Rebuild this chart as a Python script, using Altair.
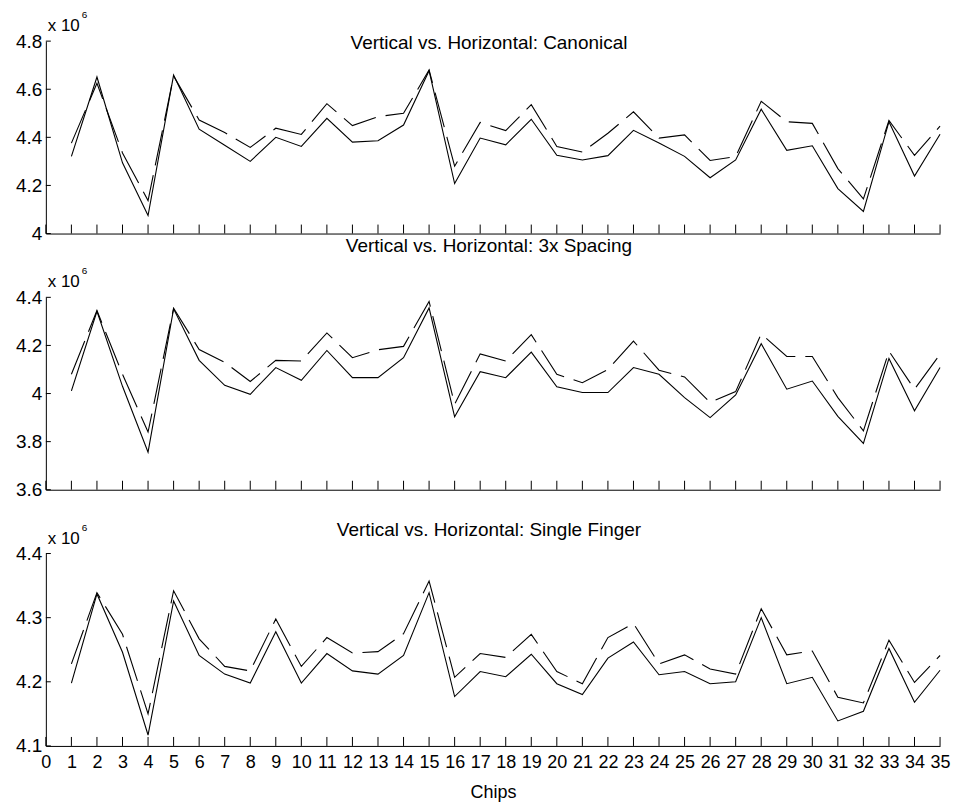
import altair as alt
import pandas as pd

chips = list(range(1, 36))
x_ticks = list(range(0, 36))

canon_solid = [4.321, 4.651, 4.294, 4.075, 4.659, 4.434, 4.367, 4.300, 4.400, 4.362,
               4.479, 4.380, 4.386, 4.451, 4.677, 4.208, 4.397, 4.369, 4.475, 4.325,
               4.306, 4.324, 4.429, 4.376, 4.321, 4.232, 4.306, 4.517, 4.346, 4.365,
               4.187, 4.092, 4.465, 4.239, 4.413]
canon_dashed = [4.376, 4.625, 4.335, 4.137, 4.655, 4.472, 4.420, 4.358, 4.438, 4.412,
                4.540, 4.449, 4.486, 4.500, 4.680, 4.280, 4.462, 4.428, 4.536, 4.362,
                4.339, 4.417, 4.506, 4.397, 4.410, 4.304, 4.320, 4.550, 4.465, 4.458,
                4.270, 4.144, 4.470, 4.325, 4.447]

spacing_solid = [4.011, 4.342, 4.030, 3.756, 4.352, 4.138, 4.034, 3.997, 4.108, 4.055,
                 4.179, 4.066, 4.066, 4.149, 4.356, 3.903, 4.091, 4.066, 4.172, 4.028,
                 4.004, 4.004, 4.108, 4.080, 3.983, 3.900, 3.994, 4.207, 4.018, 4.052,
                 3.905, 3.793, 4.146, 3.928, 4.108]
spacing_dashed = [4.080, 4.345, 4.080, 3.840, 4.355, 4.183, 4.130, 4.050, 4.138, 4.135,
                  4.252, 4.149, 4.182, 4.196, 4.383, 3.956, 4.165, 4.135, 4.245, 4.080,
                  4.045, 4.100, 4.218, 4.097, 4.069, 3.963, 4.008, 4.248, 4.154, 4.154,
                  3.983, 3.845, 4.176, 4.018, 4.163]

single_solid = [4.198, 4.337, 4.246, 4.117, 4.326, 4.241, 4.212, 4.198, 4.278, 4.198,
                4.244, 4.217, 4.212, 4.241, 4.339, 4.177, 4.216, 4.208, 4.243, 4.197,
                4.180, 4.237, 4.262, 4.211, 4.216, 4.197, 4.200, 4.300, 4.197, 4.207,
                4.139, 4.154, 4.252, 4.168, 4.218]
single_dashed = [4.228, 4.339, 4.274, 4.150, 4.342, 4.267, 4.224, 4.217, 4.298, 4.224,
                 4.269, 4.245, 4.247, 4.275, 4.357, 4.207, 4.244, 4.238, 4.274, 4.216,
                 4.197, 4.269, 4.291, 4.228, 4.242, 4.220, 4.212, 4.314, 4.242, 4.248,
                 4.176, 4.167, 4.265, 4.199, 4.241]

titles = ["Vertical vs. Horizontal: Canonical",
          "Vertical vs. Horizontal: 3x Spacing",
          "Vertical vs. Horizontal: Single Finger"]
y_domains = [[4.0, 4.8], [3.6, 4.4], [4.1, 4.4]]
y_ticks = [[4.0, 4.2, 4.4, 4.6, 4.8], [3.6, 3.8, 4.0, 4.2, 4.4], [4.1, 4.2, 4.3, 4.4]]
title_offsets = [8, -45, -18]

W, H = 897, 193
FONT = "Liberation Sans"


def panel(solid, dashed, ydom, yvals, title, title_y, show_x):
    xscale = alt.Scale(domain=[0, 35], nice=False, zero=False)
    yscale = alt.Scale(domain=ydom, nice=False, zero=False)
    xaxis_kw = dict(values=x_ticks, format="d", labels=show_x, ticks=False,
                    domain=True, domainColor="black", domainWidth=1, grid=False,
                    labelFontSize=18, labelFont=FONT, labelColor="black",
                    labelPadding=8, labelFlush=False, labelOverlap=False)
    if show_x:
        xaxis_kw.update(title="Chips", titleFont=FONT, titleFontSize=18,
                        titleFontWeight="normal", titleColor="black", titlePadding=12)
    else:
        xaxis_kw.update(title="")
    xaxis = alt.Axis(**xaxis_kw)
    yaxis = alt.Axis(values=yvals, format="~g", ticks=False, domain=True,
                     domainColor="black", domainWidth=1, grid=False,
                     labelFontSize=19, labelFont=FONT, labelColor="black",
                     labelPadding=4, labelFlush=False, labelOverlap=False, title="")

    df_s = pd.DataFrame({"chip": chips, "value": solid})
    df_d = pd.DataFrame({"chip": chips, "value": dashed})

    solid_line = alt.Chart(df_s).mark_line(color="black", strokeWidth=1.1).encode(
        x=alt.X("chip:Q", scale=xscale, axis=xaxis),
        y=alt.Y("value:Q", scale=yscale, axis=yaxis),
    )
    dashed_line = alt.Chart(df_d).mark_line(color="black", strokeWidth=1.1,
                                            strokeDash=[36, 10]).encode(
        x=alt.X("chip:Q", scale=xscale, axis=xaxis),
        y=alt.Y("value:Q", scale=yscale, axis=yaxis),
    )
    xt = alt.Chart(pd.DataFrame({"chip": x_ticks})).mark_rule(color="black", strokeWidth=1).encode(
        x=alt.X("chip:Q", scale=xscale, axis=xaxis),
        y=alt.value(H), y2=alt.value(H - 9),
    )
    yt = alt.Chart(pd.DataFrame({"value": yvals})).mark_rule(color="black", strokeWidth=1).encode(
        y=alt.Y("value:Q", scale=yscale, axis=yaxis),
        x=alt.value(0), x2=alt.value(5),
    )
    ttl = alt.Chart(pd.DataFrame({"t": [title]})).mark_text(
        font=FONT, fontSize=19, color="black", align="center", baseline="alphabetic"
    ).encode(text="t:N", x=alt.value(W / 2 - 4), y=alt.value(title_y))
    mult = alt.Chart(pd.DataFrame({"t": ["x 10"]})).mark_text(
        font=FONT, fontSize=17, color="black", align="right", baseline="alphabetic"
    ).encode(text="t:N", x=alt.value(34), y=alt.value(-10))
    sup = alt.Chart(pd.DataFrame({"t": ["6"]})).mark_text(
        font=FONT, fontSize=10, color="black", align="left", baseline="alphabetic"
    ).encode(text="t:N", x=alt.value(36), y=alt.value(-23))

    return alt.layer(solid_line, dashed_line, xt, yt, ttl, mult, sup).properties(
        width=W, height=H)


p1 = panel(canon_solid, canon_dashed, y_domains[0], y_ticks[0], titles[0], title_offsets[0], False)
p2 = panel(spacing_solid, spacing_dashed, y_domains[1], y_ticks[1], titles[1], title_offsets[1], False)
p3 = panel(single_solid, single_dashed, y_domains[2], y_ticks[2], titles[2], title_offsets[2], True)

chart = alt.vconcat(p1, p2, p3, spacing=64, bounds="flush").configure_view(
    stroke=None
).properties(
    padding={"left": 15, "top": 9, "right": 5, "bottom": 5},
    background="white",
)

chart.save("out.html", embed_options={"renderer": "svg", "actions": False})
